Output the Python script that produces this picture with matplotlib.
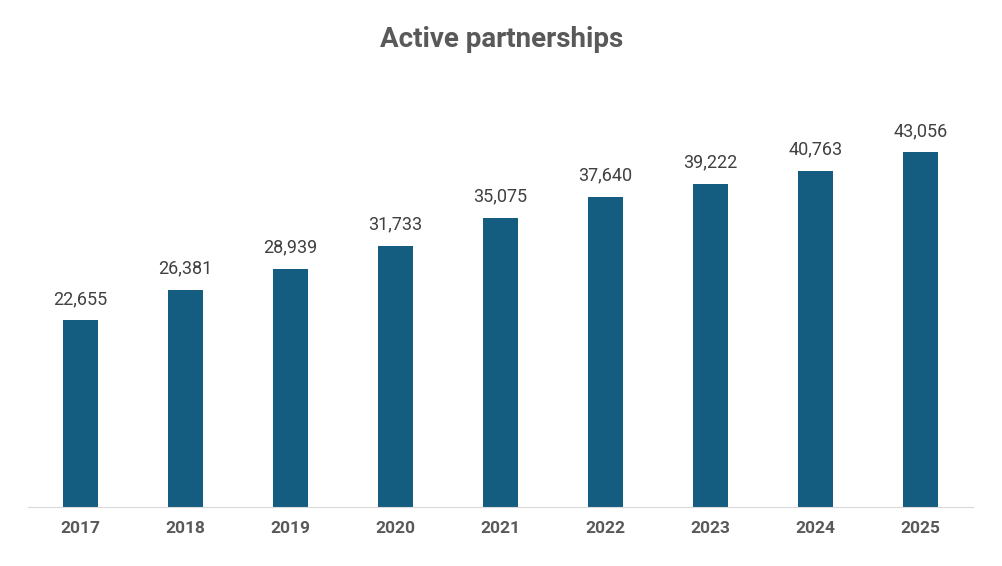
import matplotlib
matplotlib.use("Agg")
import matplotlib.pyplot as plt

years = ["2017", "2018", "2019", "2020", "2021", "2022", "2023", "2024", "2025"]
values = [22655, 26381, 28939, 31733, 35075, 37640, 39222, 40763, 43056]

fig = plt.figure(figsize=(10.03, 5.66), dpi=100)
ax = fig.add_axes([0.028, 0.104, 0.942, 0.728])
x = range(len(years))
ax.bar(x, values, width=0.33, color="#145C80", zorder=2)
for xi, v in zip(x, values):
    ax.text(xi, v + 1500, f"{v:,}", ha="center", va="bottom", fontsize=13,
            color="#404040", family="Roboto")
ax.set_xlim(-0.5, len(years) - 0.5)
ax.set_ylim(0, 50000)
ax.set_xticks(list(x))
ax.set_xticklabels(years, fontsize=12.5, fontweight="bold", color="#595959", family="Roboto")
ax.tick_params(axis="x", length=0, pad=10)
ax.set_yticks([])
for s in ["top", "right", "left"]:
    ax.spines[s].set_visible(False)
ax.spines["bottom"].set_color("#D9D9D9")
fig.text(0.5, 0.93, "Active partnerships", ha="center", va="center", fontsize=20,
         fontweight="bold", color="#595959", family="Roboto")
fig.savefig("out.png", dpi=100)
